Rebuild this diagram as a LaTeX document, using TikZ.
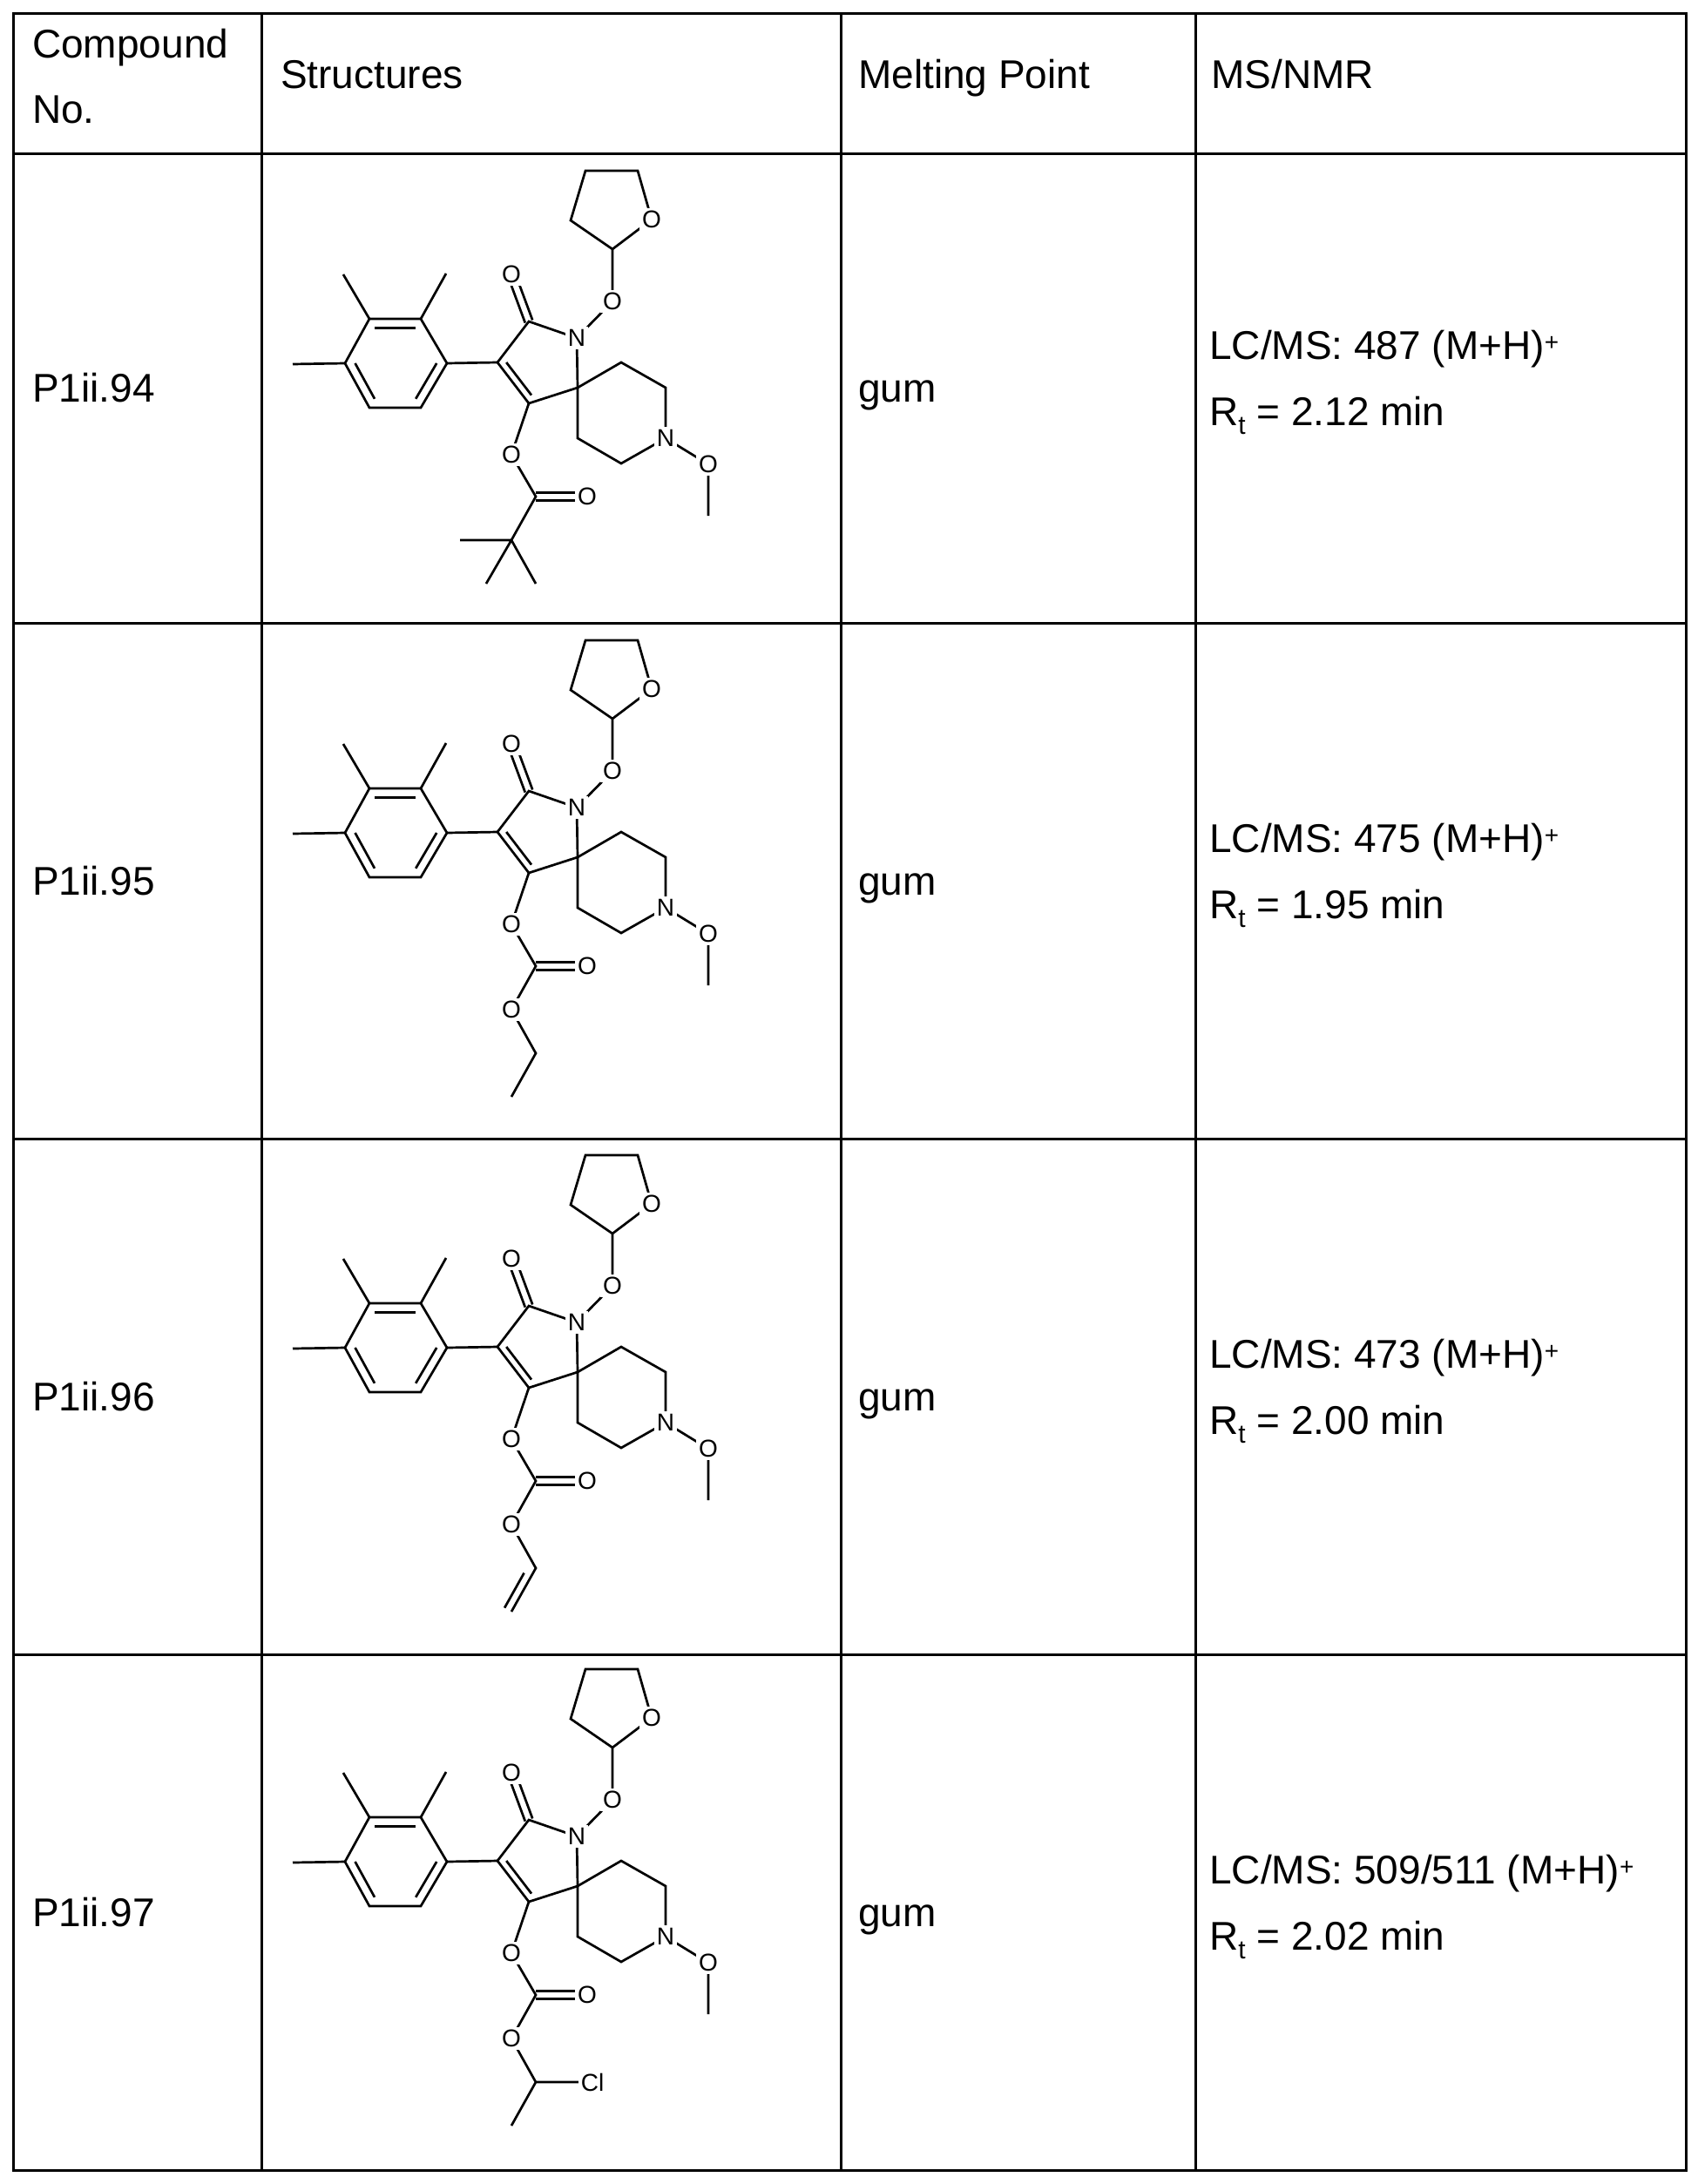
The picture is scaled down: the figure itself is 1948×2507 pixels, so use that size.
\documentclass[tikz,border=0pt]{standalone}
\usepackage{fontspec}
\setmainfont{Liberation Sans}
\usetikzlibrary{calc}
\tikzset{
  bond/.style={line width=2.7pt},
  atom/.style={fill=white, inner sep=3pt, font=\fontsize{28}{28}\selectfont},
  grid/.style={line width=3pt},
  txt/.style={anchor=base west, inner sep=0pt, font=\fontsize{46}{55}\selectfont},
}
\newcommand\dbl[3]{\draw[bond] ($(#1)!0.2!(#3)$) -- ($(#2)!0.2!(#3)$);}
\newcommand\eqdbl[2]{\draw[bond] ($(#1)!4.5pt!90:(#2)$) -- ($(#2)!4.5pt!-90:(#1)$);
  \draw[bond] ($(#1)!4.5pt!-90:(#2)$) -- ($(#2)!4.5pt!90:(#1)$);}
% core molecule: #1 = vertical shift, #2 = prefix
\newcommand\molcore[2]{%
\begin{scope}[shift={(0,#1)}]
\coordinate (#2c1) at (424,366); \coordinate (#2c2) at (483,366);
\coordinate (#2c3) at (513,417); \coordinate (#2c4) at (483,468);
\coordinate (#2c5) at (424,468); \coordinate (#2c6) at (396,417);
\coordinate (#2bz) at (454,417);
\coordinate (#2m1) at (394,315); \coordinate (#2m2) at (512,314); \coordinate (#2m6) at (336,418);
\coordinate (#2ca) at (571,416); \coordinate (#2cc) at (607,369);
\coordinate (#2n1) at (662,388); \coordinate (#2sp) at (663,445);
\coordinate (#2cd) at (607,463); \coordinate (#2pz) at (622,416);
\coordinate (#2o1) at (587,315);
\coordinate (#2on) at (703,346); \coordinate (#2t2) at (703,286);
\coordinate (#2ot) at (748,252); \coordinate (#2t4) at (732,196);
\coordinate (#2t5) at (672,196); \coordinate (#2t6) at (655,253);
\coordinate (#2p2) at (713,416); \coordinate (#2p3) at (764,445);
\coordinate (#2n2) at (764,503); \coordinate (#2p5) at (713,532);
\coordinate (#2p6) at (663,503);
\coordinate (#2om) at (813,533); \coordinate (#2me) at (813,592);
\coordinate (#2oe) at (587,522); \coordinate (#2ce) at (615,570);
\coordinate (#2oc) at (674,570); \coordinate (#2x) at (587,620);
\coordinate (#2y) at (615,670); \coordinate (#2z) at (587,720);
\coordinate (#2w) at (528,620); \coordinate (#2cl) at (674,670);
\draw[bond] (#2c1)--(#2c2)--(#2c3)--(#2c4)--(#2c5)--(#2c6)--cycle;
\dbl{#2c1}{#2c2}{#2bz} \dbl{#2c3}{#2c4}{#2bz} \dbl{#2c5}{#2c6}{#2bz}
\draw[bond] (#2c1)--(#2m1) (#2c2)--(#2m2) (#2c6)--(#2m6) (#2c3)--(#2ca);
\draw[bond] (#2ca)--(#2cc)--(#2n1)--(#2sp)--(#2cd)--cycle;
\dbl{#2ca}{#2cd}{#2pz}
\eqdbl{#2cc}{#2o1}
\draw[bond] (#2n1)--(#2on)--(#2t2)--(#2ot)--(#2t4)--(#2t5)--(#2t6)--(#2t2);
\draw[bond] (#2sp)--(#2p2)--(#2p3)--(#2n2)--(#2p5)--(#2p6)--(#2sp);
\draw[bond] (#2n2)--(#2om)--(#2me);
\draw[bond] (#2cd)--(#2oe)--(#2ce)--(#2x);
\eqdbl{#2ce}{#2oc}
\end{scope}}
\newcommand\molatoms[1]{%
\node[atom] (#1Lo1) at (#1o1) {O};
\node[atom] (#1Ln1) at (#1n1) {N};
\node[atom] (#1Lon) at (#1on) {O};
\node[atom] (#1Lot) at (#1ot) {O};
\node[atom] (#1Ln2) at (#1n2) {N};
\node[atom] (#1Lom) at (#1om) {O};
\node[atom] (#1Loe) at (#1oe) {O};
\node[atom] (#1Loc) at (#1oc) {O};}
\newcommand\plus{\textsuperscript{\fontsize{28}{28}\selectfont +}}
\newcommand\Rt{R\raisebox{-0.22em}{\fontsize{30}{30}\selectfont t}}
\begin{document}
\begin{tikzpicture}[x=1pt,y=-1pt]
\useasboundingbox[fill=white] (0,0) rectangle (1948,2507);
% table grid
\draw[grid] (15,16) rectangle (1935,2491);
\foreach \yy in {177,715,1307,1899} \draw[grid] (15,\yy) -- (1935,\yy);
\foreach \xx in {300,965,1372} \draw[grid] (\xx,16) -- (\xx,2491);
% header
\node[txt] (h1) at (37,67) {Compound};
\node[txt] (h1b) at (37,142) {No.};
\node[txt] (h2) at (322,102) {Structures};
\node[txt] (h3) at (985,102) {Melting Point};
\node[txt] (h4) at (1390,102) {MS/NMR};
% row texts
\foreach \cy/\id/\ms/\rt [count=\i] in {445/94/487/2.12, 1011/95/475/1.95, 1603/96/473/2.00, 2195/97/509\slash511/2.02}{
  \node[txt] (id\i) at (37,\cy+16) {P1ii.\id};
  \node[txt] (mp\i) at (985,\cy+16) {gum};
  \node[txt] (ms\i) at (1388,\cy-33) {LC/MS: \ms{} (M+H)\plus};
  \node[txt] (rt\i) at (1388,\cy+43) {\Rt{} = \rt{} min};
}
% row 1
\molcore{0}{a}
\draw[bond] (ax)--(aw) (ax)--(ay) (ax)--($(ax)+(-29,50)$) coordinate (aq);
\molatoms{a}
% row 2
\molcore{539}{b}
\draw[bond] (bx)--(by)--(bz);
\molatoms{b}
\node[atom] (bLx) at (bx) {O};
% row 3
\molcore{1130}{c}
\draw[bond] (cx)--(cy)--(cz);
\draw[bond] ($(cy)!0.2!(cz)!9pt!-90:(cz)$) -- ($(cz)!9pt!90:(cy)$);
\molatoms{c}
\node[atom] (cLx) at (cx) {O};
% row 4
\molcore{1720}{d}
\draw[bond] (dx)--(dy)--(dz) (dy)--(dcl);
\molatoms{d}
\node[atom] (dLx) at (dx) {O};
\node[atom] (dLcl) at ($(dcl)+(6,0)$) {Cl};
\end{tikzpicture}
\end{document}
